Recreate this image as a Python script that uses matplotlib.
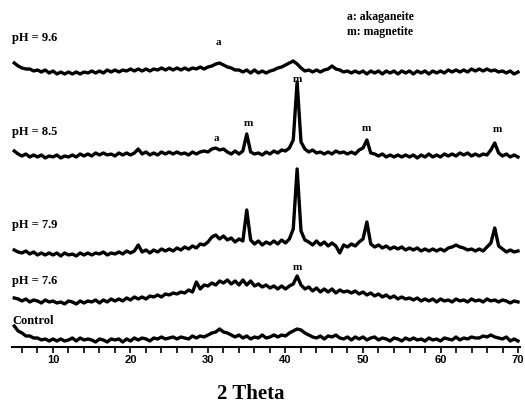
import matplotlib
matplotlib.use('Agg')
import matplotlib.pyplot as plt
import numpy as np

# 2 theta grid, 0.5 deg steps (5 -> 70)
two_theta = np.arange(5.0, 70.01, 0.5)

# intensities (a.u.), one row = 5 deg
control = [21, 16, 14, 11, 11, 9, 9, 7, 8, 6,
           8, 6, 8, 6, 7, 9, 6, 9, 7, 8,
           7, 5, 8, 7, 5, 8, 7, 8, 5, 8,
           6, 9, 7, 9, 8, 6, 9, 8, 10, 8,
           9, 10, 8, 10, 9, 8, 11, 9, 11, 10,
           12, 14, 15, 18, 15, 14, 12, 10, 12, 9,
           11, 8, 10, 9, 12, 9, 10, 12, 10, 12,
           11, 14, 16, 18, 17, 14, 12, 10, 9, 11,
           8, 11, 10, 12, 9, 8, 10, 7, 10, 8,
           10, 7, 9, 10, 7, 9, 8, 6, 9, 8,
           6, 9, 7, 9, 7, 8, 6, 9, 7, 8,
           6, 9, 8, 7, 10, 7, 9, 8, 10, 9,
           9, 11, 10, 12, 10, 9, 8, 10, 6, 8,
           6]

ph_76 = [9, 8, 6, 8, 5, 7, 6, 4, 7, 5,
         6, 4, 5, 3, 6, 5, 3, 6, 4, 6,
         5, 7, 4, 7, 5, 8, 6, 8, 6, 9,
         7, 10, 8, 10, 8, 11, 10, 12, 10, 13,
         12, 14, 13, 15, 14, 17, 15, 25, 18, 22,
         21, 24, 22, 26, 24, 27, 23, 26, 22, 27,
         22, 26, 21, 23, 20, 22, 19, 21, 18, 21,
         18, 21, 23, 31, 22, 18, 20, 16, 19, 15,
         18, 15, 18, 14, 17, 15, 16, 14, 16, 13,
         15, 12, 14, 11, 13, 10, 12, 9, 11, 8,
         10, 8, 9, 7, 9, 6, 8, 6, 8, 5,
         8, 6, 7, 5, 8, 6, 7, 5, 8, 6,
         7, 5, 8, 6, 7, 5, 7, 6, 4, 6,
         5]

ph_79 = [7, 5, 4, 6, 3, 5, 2, 4, 2, 4,
         2, 4, 1, 4, 2, 3, 1, 4, 2, 4,
         2, 4, 3, 5, 2, 4, 3, 5, 3, 6,
         4, 6, 12, 5, 7, 4, 7, 5, 8, 6,
         8, 6, 9, 7, 10, 8, 11, 9, 13, 12,
         15, 20, 22, 18, 21, 17, 19, 15, 18, 16,
         47, 17, 13, 16, 12, 15, 13, 16, 13, 17,
         14, 18, 28, 88, 26, 17, 15, 12, 16, 12,
         15, 11, 14, 11, 4, 12, 10, 13, 11, 15,
         18, 35, 13, 10, 12, 9, 11, 8, 10, 8,
         10, 7, 9, 7, 9, 6, 8, 6, 8, 6,
         8, 6, 9, 10, 12, 10, 9, 7, 8, 6,
         8, 6, 10, 14, 29, 11, 8, 5, 7, 5,
         6]

ph_85 = [11, 8, 6, 8, 5, 7, 5, 7, 4, 6,
         5, 7, 4, 6, 5, 7, 5, 8, 6, 8,
         6, 9, 7, 9, 7, 8, 6, 9, 7, 9,
         7, 9, 13, 8, 10, 7, 9, 7, 10, 8,
         10, 8, 10, 8, 9, 7, 10, 8, 10, 11,
         10, 13, 14, 12, 13, 10, 8, 11, 8, 11,
         28, 10, 8, 9, 7, 10, 8, 11, 9, 12,
         11, 14, 22, 80, 20, 13, 10, 12, 9, 10,
         8, 10, 8, 11, 9, 10, 8, 10, 8, 12,
         14, 22, 9, 8, 6, 8, 5, 7, 5, 7,
         5, 7, 5, 7, 4, 7, 5, 8, 5, 7,
         5, 8, 6, 8, 6, 9, 7, 9, 6, 8,
         6, 8, 7, 12, 19, 9, 6, 8, 5, 7,
         5]

ph_96 = [14, 11, 9, 8, 8, 6, 7, 5, 7, 4,
         6, 3, 5, 3, 5, 3, 5, 3, 5, 4,
         6, 4, 6, 4, 7, 5, 7, 5, 7, 6,
         8, 6, 8, 6, 8, 6, 8, 7, 9, 7,
         9, 7, 9, 7, 9, 7, 9, 8, 10, 8,
         10, 11, 13, 14, 12, 10, 9, 7, 7, 5,
         7, 4, 7, 4, 6, 4, 6, 7, 9, 10,
         12, 14, 16, 13, 9, 6, 7, 5, 7, 5,
         7, 8, 11, 8, 7, 5, 6, 4, 6, 4,
         6, 3, 6, 4, 6, 3, 6, 4, 6, 3,
         6, 4, 6, 3, 6, 4, 6, 3, 6, 4,
         6, 4, 7, 5, 7, 5, 7, 5, 8, 6,
         8, 6, 8, 6, 7, 5, 6, 4, 6, 3,
         5]

sample_names = ['Control', 'pH = 7.6', 'pH = 7.9', 'pH = 8.5', 'pH = 9.6']
series = [control, ph_76, ph_79, ph_85, ph_96]

# vertical stacking of the patterns
offsets = [0, 40, 90, 185, 270]
name_y = [26, 66, 122, 215, 309]

serif = 'Liberation Serif'

fig = plt.figure(figsize=(5.25, 4.03), dpi=100)
ax = fig.add_axes([0.0227, 0.139, 0.9684, 0.861])

for ys, off in zip(series, offsets):
    ax.plot(two_theta, np.array(ys) + off, color='black', lw=2.4)

for name, y in zip(sample_names, name_y):
    ax.text(4.72, y, name, ha='left', va='center', fontsize=9,
            fontweight='bold', family=serif)

# phase marks
ax.text(31.3, 304, 'a', ha='center', va='center', fontsize=8, fontweight='bold', family=serif)
ax.text(41.5, 267, 'm', ha='center', va='center', fontsize=8, fontweight='bold', family=serif)
ax.text(31.1, 208, 'a', ha='center', va='center', fontsize=8, fontweight='bold', family=serif)
ax.text(35.2, 223, 'm', ha='center', va='center', fontsize=8, fontweight='bold', family=serif)
ax.text(50.5, 218, 'm', ha='center', va='center', fontsize=8, fontweight='bold', family=serif)
ax.text(67.3, 217, 'm', ha='center', va='center', fontsize=8, fontweight='bold', family=serif)
ax.text(41.5, 79, 'm', ha='center', va='center', fontsize=8, fontweight='bold', family=serif)

ax.text(47.9, 330, 'a: akaganeite', ha='left', va='center', fontsize=8.5, fontweight='bold', family=serif)
ax.text(47.9, 315, 'm: magnetite', ha='left', va='center', fontsize=8.5, fontweight='bold', family=serif)

ax.set_xlim(4.7, 70.3)
ax.set_ylim(0, 347)
for s in ['left', 'right', 'top']:
    ax.spines[s].set_visible(False)
ax.spines['bottom'].set_linewidth(1.5)
ax.set_yticks([])
ax.set_xticks(np.arange(10, 71, 10))
ax.set_xticks(np.arange(6, 70, 2), minor=True)
ax.tick_params(axis='x', which='both', direction='out', length=4, width=1.2, pad=2)
for lab in ax.get_xticklabels():
    lab.set_fontsize(8)
    lab.set_fontweight('bold')
    lab.set_family('Liberation Sans')

fig.text(251 / 525, 1 - 394 / 403, '2 Theta', ha='center', va='center',
         fontsize=15, fontweight='bold', family=serif)

fig.savefig('out.png', dpi=100)
